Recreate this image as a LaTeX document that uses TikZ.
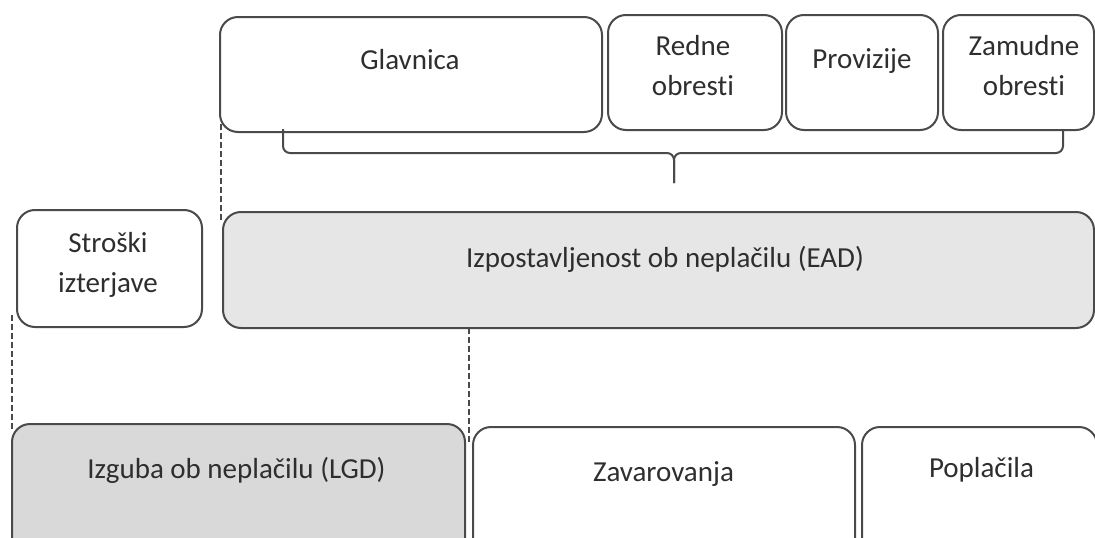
\documentclass[tikz,border=0pt]{standalone}
\usepackage{fontspec}
\setmainfont{Carlito}[Ligatures=NoCommon]
\usetikzlibrary{calc}
\definecolor{boxline}{HTML}{4A4A4A}
\definecolor{txt}{HTML}{2E2E2E}
\definecolor{eadfill}{HTML}{E6E6E6}
\definecolor{lgdfill}{HTML}{D9D9D9}
\begin{document}
\begin{tikzpicture}[x=1pt,y=-1pt,
  box/.style={draw=boxline, line width=2pt, rounded corners=18pt,
    inner sep=0pt, outer sep=0pt},
  label/.style={text=txt, inner sep=0pt, font=\fontsize{29}{40}\selectfont},
  multi/.style={label, align=center},
  dashline/.style={draw=boxline, line width=1.8pt, dash pattern=on 6pt off 3pt},
  brace/.style={draw=boxline, line width=2pt, rounded corners=7pt}]
\useasboundingbox (0,0) rectangle (1095,538);

% upper row: components of the exposure
\node[box, minimum width=382pt, minimum height=115pt] (glav) at (411,74.5) {};
\node[box, minimum width=174pt, minimum height=115pt] (redne) at (695,72.5) {};
\node[box, minimum width=152pt, minimum height=115pt] (prov) at (862,72.5) {};
\node[box, minimum width=151pt, minimum height=115pt] (zam) at (1018.5,72.5) {};

\node[label, anchor=base] (glavT) at (410,69) {Glavnica};
\node[multi] (redneT) at (693,65.3) {Redne\\obresti};
\node[label, anchor=base] (provT) at (862,68) {Provizije};
\node[multi] (zamT) at (1024,65.3) {Zamudne\\obresti};

% brace gathering the upper row
\coordinate (bl) at ($(glav.south west)+(63,-3)$);
\coordinate (br) at (1063,130);
\coordinate (bm) at (674,153);
\coordinate (btip) at (674,183);
\draw[brace] (bl) -- (bl |- bm) -- (bm) -- (btip);
\draw[brace] (br) -- (br |- bm) -- (bm) -- (btip);

% middle row
\node[box, minimum width=185pt, minimum height=117pt] (stroski) at (109.5,268.5) {};
\node[multi] (stroskiT) at (108,265.1) {Stroški\\izterjave};
\node[box, fill=eadfill, minimum width=871pt, minimum height=116pt] (ead) at (658.5,270) {};
\node[label, anchor=base] (eadT) at (665,267) {Izpostavljenost ob neplačilu (EAD)};

% lower row
\node[box, fill=lgdfill, minimum width=453pt, minimum height=136pt] (lgd) at (238.5,492) {};
\node[box, minimum width=382pt, minimum height=133pt] (zav) at (664,493.5) {};
\node[box, minimum width=235pt, minimum height=133pt] (popl) at (979.5,493.5) {};
\node[label, anchor=base] (lgdT) at (236.5,478) {Izguba ob neplačilu (LGD)};
\node[label, anchor=base] (zavT) at (663.5,481) {Zavarovanja};
\node[label, anchor=base] (poplT) at (981.5,477) {Poplačila};

% dashed guides between the rows
\coordinate (gap) at ($(lgd.north east)!0.5!(zav.north west)$);
\draw[dashline] ($(glav.south west)+(1,-8)$) -- ($(glav.west |- ead.north)+(1,10)$);
\draw[dashline] ($(lgd.west |- stroski.south)+(0,-12)$) -- ($(lgd.north west)+(0,6)$);
\draw[dashline] (gap |- ead.south) -- ($(gap)+(0,17)$);
\end{tikzpicture}
\end{document}
